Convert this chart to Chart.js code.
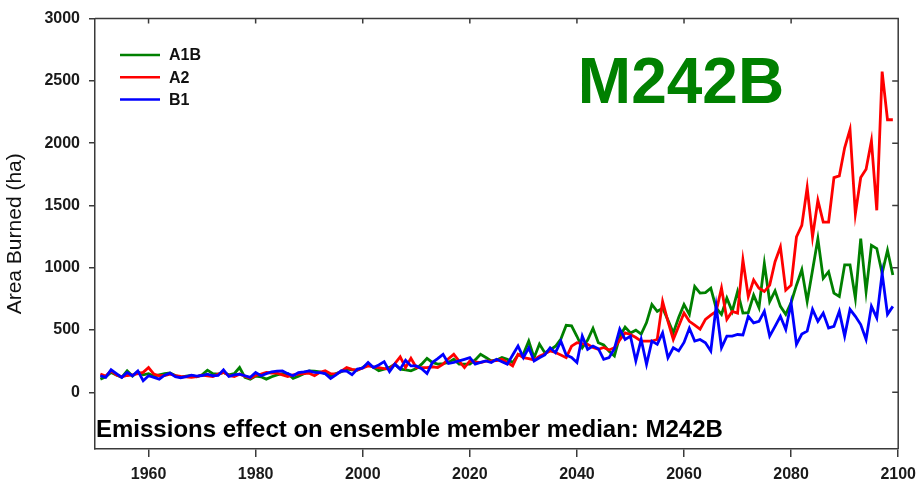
<!DOCTYPE html>
<html>
<head>
<meta charset="utf-8">
<title>M242B</title>
<script src="https://cdn.jsdelivr.net/npm/chart.js@4.4.1/dist/chart.umd.min.js"></script>
<style>
  html, body { margin: 0; padding: 0; background: #fff; }
  #wrap { width: 924px; height: 484px; }
</style>
</head>
<body>
<div id="wrap"><canvas id="fireChart" width="924" height="484"></canvas></div>
<script>
// Area burned (ha), ensemble member median, one value per year from 1951 to 2099
const firstYear = 1951;
const runName = 'M242B';
const seriesNames = ['A1B', 'A2', 'B1'];

const a1b = [
    106, 125, 160, 140, 120, 172, 130, 165, 140, 150,   // 1951-1960
    130, 140, 150, 155, 135, 120, 130, 135, 125, 140,
    178, 150, 145, 160, 140, 150, 199, 120, 106, 130,
    125, 106, 125, 140, 150, 150, 112, 130, 150, 172,
    170, 165, 150, 133, 150, 165, 186, 180, 178, 200,
    226, 200, 173, 186, 200, 226, 186, 180, 173, 190,   // 2001-2010
    226, 273, 240, 226, 231, 240, 265, 226, 226, 226,
    260, 305, 280, 252, 260, 279, 265, 239, 300, 308,
    411, 278, 387, 318, 340, 370, 427, 538, 533, 450,
    358, 420, 514, 398, 380, 330, 292, 450, 523, 477,
    499, 467, 560, 705, 650, 677, 580, 477, 600, 705,   // 2051-2060
    626, 849, 796, 800, 836, 677, 626, 756, 650, 809,
    636, 640, 780, 680, 1034, 729, 815, 690, 626, 720,
    860, 984, 729, 980, 1233, 915, 968, 796, 769, 1023,
    1023, 756, 1233, 809, 1180, 1154, 955, 1140, 942    // 2091-2099
];

const a2 = [
    146, 130, 172, 140, 125, 135, 140, 150, 160, 199,
    146, 133, 135, 146, 135, 127, 125, 120, 125, 138,
    132, 127, 146, 160, 135, 127, 146, 130, 114, 135,
    146, 159, 155, 154, 140, 127, 140, 146, 150, 154,
    133, 160, 173, 150, 146, 170, 199, 185, 178, 195,
    212, 205, 199, 190, 186, 230, 284, 199, 273, 199,
    199, 199, 205, 199, 226, 270, 305, 250, 199, 252,
    245, 239, 250, 252, 255, 265, 240, 212, 305, 278,
    270, 260, 290, 310, 332, 320, 300, 278, 371, 398,
    390, 385, 360, 345, 360, 340, 358, 420, 477, 464,
    440, 411, 411, 411, 424, 729, 570, 424, 530, 636,
    570, 540, 507, 586, 620, 650, 836, 586, 650, 636,
    1063, 769, 902, 836, 809, 860, 1048, 1167, 820, 860,
    1247, 1340, 1644, 1247, 1541, 1366, 1366, 1724, 1737, 1963,
    2110, 1432, 1724, 1790, 2018, 1461, 2575, 2188, 2188
];

const b1 = [
    133, 120, 181, 150, 120, 159, 133, 172, 93, 133,
    120, 106, 138, 154, 125, 117, 125, 138, 130, 135,
    146, 133, 135, 181, 127, 140, 146, 133, 120, 159,
    133, 150, 165, 170, 172, 150, 133, 159, 165, 172,
    160, 158, 150, 111, 140, 173, 170, 141, 186, 195,
    239, 199, 220, 246, 167, 226, 186, 257, 212, 212,
    190, 151, 239, 270, 305, 231, 240, 252, 265, 279,
    226, 240, 252, 239, 265, 245, 226, 300, 372, 278,
    358, 252, 278, 300, 358, 318, 411, 300, 280, 239,
    451, 345, 371, 350, 265, 278, 350, 507, 424, 451,
    252, 424, 225, 411, 385, 477, 278, 358, 332, 400,
    514, 411, 424, 398, 332, 690, 358, 451, 451, 464,
    460, 610, 557, 570, 650, 451, 530, 610, 504, 716,
    385, 467, 491, 666, 570, 636, 517, 530, 650, 451,
    666, 610, 544, 424, 690, 597, 955, 626, 690
];

const xTicks = [1960, 1980, 2000, 2020, 2040, 2060, 2080, 2100];
const yTicks = [0, 500, 1000, 1500, 2000, 2500, 3000];

const axisColor = '#3a3a3a';
const fontFamily = '"Liberation Sans", Arial, sans-serif';
const tickFont = { family: fontFamily, size: 16, weight: 'bold' };

function toPoints(values) {
    return values.map((v, i) => ({ x: firstYear + i, y: v }));
}

// top and right frame lines with inward ticks
const framePlugin = {
    id: 'frame',
    afterDraw(chart) {
        const { ctx, chartArea: a, scales: { x, y } } = chart;
        ctx.save();
        ctx.strokeStyle = axisColor;
        ctx.lineWidth = 1.5;
        ctx.beginPath();
        ctx.moveTo(a.left, a.top);
        ctx.lineTo(a.right, a.top);
        ctx.lineTo(a.right, a.bottom);
        xTicks.forEach(v => {
            const px = x.getPixelForValue(v);
            ctx.moveTo(px, a.top);
            ctx.lineTo(px, a.top + 5);
        });
        yTicks.forEach(v => {
            const py = y.getPixelForValue(v);
            ctx.moveTo(a.right, py);
            ctx.lineTo(a.right - 6, py);
        });
        ctx.stroke();
        ctx.restore();
    }
};

// legend in the upper left corner of the plot
const legendPlugin = {
    id: 'cornerLegend',
    afterDraw(chart) {
        const ctx = chart.ctx;
        ctx.save();
        chart.data.datasets.forEach((ds, i) => {
            const y = 55 + i * 22.2;
            ctx.strokeStyle = ds.borderColor;
            ctx.lineWidth = 2.5;
            ctx.beginPath();
            ctx.moveTo(120, y);
            ctx.lineTo(160, y);
            ctx.stroke();
            ctx.fillStyle = '#111';
            ctx.font = 'bold 16px ' + fontFamily;
            ctx.textAlign = 'left';
            ctx.textBaseline = 'middle';
            ctx.fillText(ds.label, 169, y + 1);
        });
        ctx.restore();
    }
};

// run name and caption
const notesPlugin = {
    id: 'notes',
    afterDraw(chart) {
        const ctx = chart.ctx;
        ctx.save();
        ctx.fillStyle = '#008000';
        ctx.font = 'bold 64px ' + fontFamily;
        ctx.textAlign = 'center';
        ctx.textBaseline = 'alphabetic';
        ctx.fillText(runName, 681, 103);
        ctx.fillStyle = '#000';
        ctx.font = 'bold 24px ' + fontFamily;
        ctx.textAlign = 'left';
        ctx.fillText('Emissions effect on ensemble member median: ' + runName, 96, 437);
        ctx.restore();
    }
};

const fireCtx = document.getElementById('fireChart');
if (fireCtx) {
    new Chart(fireCtx, {
        type: 'line',
        data: {
            datasets: [
                { label: seriesNames[0], data: toPoints(a1b), borderColor: '#008000', order: 2 },
                { label: seriesNames[1], data: toPoints(a2), borderColor: '#ff0000', order: 1 },
                { label: seriesNames[2], data: toPoints(b1), borderColor: '#0000ff', order: 0 }
            ]
        },
        options: {
            responsive: false,
            animation: false,
            layout: { padding: { top: 15, right: 21, bottom: 0, left: 0 } },
            elements: {
                line: { borderWidth: 2.8, tension: 0, fill: false },
                point: { radius: 0 }
            },
            plugins: {
                legend: { display: false },
                tooltip: { enabled: false }
            },
            scales: {
                x: {
                    type: 'linear',
                    min: 1950,
                    max: 2100,
                    afterBuildTicks: s => { s.ticks = xTicks.map(v => ({ value: v })); },
                    afterFit: s => { s.height = 35; },
                    grid: { drawOnChartArea: false, drawTicks: true, tickLength: 8, color: axisColor, lineWidth: 1.5 },
                    border: { display: true, color: axisColor, width: 1.5 },
                    ticks: {
                        font: tickFont,
                        color: '#1a1a1a',
                        padding: 8,
                        maxRotation: 0,
                        autoSkip: false,
                        callback: v => String(v)
                    }
                },
                y: {
                    type: 'linear',
                    min: -455,
                    max: 3000,
                    afterBuildTicks: s => { s.ticks = yTicks.map(v => ({ value: v })); },
                    afterFit: s => { s.width = 95; },
                    grid: { drawOnChartArea: false, drawTicks: true, tickLength: 6, color: axisColor, lineWidth: 1.5 },
                    border: { display: true, color: axisColor, width: 1.5 },
                    ticks: {
                        font: tickFont,
                        color: '#1a1a1a',
                        padding: 9,
                        autoSkip: false,
                        callback: v => String(v)
                    },
                    title: {
                        display: true,
                        text: 'Area Burned (ha)',
                        color: '#111',
                        font: { family: fontFamily, size: 21, weight: 'normal' },
                        padding: { top: 3, bottom: 0 }
                    }
                }
            }
        },
        plugins: [framePlugin, legendPlugin, notesPlugin]
    });
}
</script>
</body>
</html>
